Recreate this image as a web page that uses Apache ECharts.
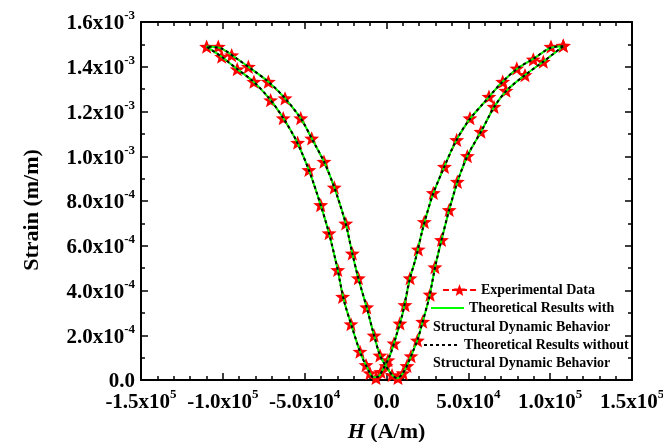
<!DOCTYPE html>
<html>
<head>
<meta charset="utf-8">
<script src="https://cdn.jsdelivr.net/npm/echarts@6/dist/echarts.min.js"></script>
<style>
html,body{margin:0;padding:0;background:#fff;}
#chart{width:663px;height:442px;}
</style>
</head>
<body>
<div id="chart"></div>
<script>
// ---- Data (H in A/m, strain in units of 1e-3 m/m) ----
// Experimental loop: right tip -> descending H -> left tip -> ascending H -> right tip
const expH = [108000, 100500, 89700, 79600, 71000, 62600, 51000, 42900, 35400, 28600, 23100, 19400, 14400, 11300, 8200, 4600, 900, -3400, -6400, -10100, -12500, -16200, -21700, -26800, -29800, -35100, -40200, -47400, -54300, -63100, -70800, -81000, -91200, -100700, -109900,
  -102800, -94600, -84400, -72200, -62000, -52400, -45700, -38200, -31900, -24900, -20900, -17200, -12100, -7600, -4000, -300, 3400, 7000, 10100, 12500, 15000, 18900, 22100, 26600, 29600, 33600, 38300, 43300, 49400, 57700, 65700, 73000, 84600, 95800, 108000];
const expStrain = [1.494, 1.490, 1.433, 1.393, 1.333, 1.266, 1.170, 1.073, 0.953, 0.836, 0.707, 0.584, 0.455, 0.335, 0.253, 0.164, 0.089, 0.036, 0.009, 0.031, 0.067, 0.127, 0.250, 0.372, 0.492, 0.656, 0.782, 0.939, 1.061, 1.170, 1.251, 1.333, 1.389, 1.445, 1.490,
  1.490, 1.452, 1.400, 1.333, 1.259, 1.170, 1.080, 0.976, 0.861, 0.700, 0.566, 0.455, 0.325, 0.199, 0.110, 0.063, 0.022, 0.009, 0.031, 0.063, 0.107, 0.177, 0.261, 0.382, 0.504, 0.626, 0.760, 0.886, 1.001, 1.110, 1.221, 1.293, 1.363, 1.423, 1.494];

// Theoretical results with structural dynamic behavior
const thWithH = [108000, 100000, 90000, 80000, 70000, 60000, 50000, 42000, 35000, 28000, 22000, 18000, 14000, 10000, 6000, 2000, -2000, -5000, -8000, -12000, -16000, -21000, -26000, -30000, -35000, -40000, -47000, -55000, -63000, -72000, -82000, -92000, -101000, -110000,
  -101000, -92000, -82000, -72000, -62000, -52000, -45000, -38000, -32000, -25000, -21000, -17000, -12000, -8000, -4000, 0, 3500, 6500, 10000, 13000, 16000, 19000, 22000, 26000, 30000, 34000, 38500, 44000, 50000, 58000, 66000, 74000, 85000, 96000, 108000];
const thWithStrain = [1.492, 1.484, 1.437, 1.392, 1.326, 1.243, 1.158, 1.062, 0.948, 0.822, 0.672, 0.548, 0.445, 0.302, 0.199, 0.108, 0.050, 0.015, 0.012, 0.058, 0.122, 0.235, 0.355, 0.498, 0.652, 0.777, 0.930, 1.068, 1.170, 1.262, 1.338, 1.394, 1.446, 1.490,
  1.482, 1.439, 1.387, 1.332, 1.259, 1.165, 1.070, 0.973, 0.863, 0.702, 0.569, 0.449, 0.322, 0.210, 0.110, 0.058, 0.022, 0.008, 0.030, 0.072, 0.125, 0.180, 0.258, 0.366, 0.515, 0.637, 0.766, 0.900, 1.010, 1.113, 1.223, 1.298, 1.365, 1.424, 1.492];

// Theoretical results without structural dynamic behavior (overlaps the above)
const thWithoutH = [108000, 100000, 90000, 80000, 70000, 60000, 50000, 42000, 35000, 28000, 22000, 18000, 14000, 10000, 6000, 2000, -2000, -5000, -8000, -12000, -16000, -21000, -26000, -30000, -35000, -40000, -47000, -55000, -63000, -72000, -82000, -92000, -101000, -110000,
  -101000, -92000, -82000, -72000, -62000, -52000, -45000, -38000, -32000, -25000, -21000, -17000, -12000, -8000, -4000, 0, 3500, 6500, 10000, 13000, 16000, 19000, 22000, 26000, 30000, 34000, 38500, 44000, 50000, 58000, 66000, 74000, 85000, 96000, 108000];
const thWithoutStrain = [1.492, 1.484, 1.437, 1.392, 1.326, 1.243, 1.158, 1.062, 0.948, 0.822, 0.672, 0.548, 0.445, 0.302, 0.199, 0.108, 0.050, 0.015, 0.012, 0.058, 0.122, 0.235, 0.355, 0.498, 0.652, 0.777, 0.930, 1.068, 1.170, 1.262, 1.338, 1.394, 1.446, 1.490,
  1.482, 1.439, 1.387, 1.332, 1.259, 1.165, 1.070, 0.973, 0.863, 0.702, 0.569, 0.449, 0.322, 0.210, 0.110, 0.058, 0.022, 0.008, 0.030, 0.072, 0.125, 0.180, 0.258, 0.366, 0.515, 0.637, 0.766, 0.900, 1.010, 1.113, 1.223, 1.298, 1.365, 1.424, 1.492];

// Tick labels
const xTickValues = [-150000, -100000, -50000, 0, 50000, 100000, 150000];
const xTickMantissa = ['-1.5x10', '-1.0x10', '-5.0x10', '0.0', '5.0x10', '1.0x10', '1.5x10'];
const xTickExp = ['5', '5', '4', '', '4', '5', '5'];
const yTickValues = [0, 0.2, 0.4, 0.6, 0.8, 1.0, 1.2, 1.4, 1.6];
const yTickMantissa = ['0.0', '2.0x10', '4.0x10', '6.0x10', '8.0x10', '1.0x10', '1.2x10', '1.4x10', '1.6x10'];
const yTickExp = ['', '-4', '-4', '-4', '-4', '-3', '-3', '-3', '-3'];

const seriesNames = ['Experimental Data', 'Theoretical Results with Structural Dynamic Behavior', 'Theoretical Results without Structural Dynamic Behavior'];
const xTitle = 'H';
const xTitleUnit = ' (A/m)';
const yTitle = 'Strain (m/m)';

// ---- Chart ----
const FONT = '"Liberation Serif", "Times New Roman", serif';
const zip = (a, b) => a.map((v, i) => [v, b[i]]);
const idxOf = (vals, v) => vals.findIndex(t => Math.abs(t - v) < 1e-6 * Math.max(1, Math.abs(t)));

const richLabel = {
  m: { fontFamily: FONT, fontWeight: 'bold', fontSize: 21, color: '#000', lineHeight: 25, verticalAlign: 'bottom' },
  e: { fontFamily: FONT, fontWeight: 'bold', fontSize: 13, color: '#000', lineHeight: 14, verticalAlign: 'top' }
};
function fmt(vals, man, ex) {
  return function (v) {
    const i = idxOf(vals, v);
    if (i < 0) return '';
    return ex[i] ? '{m|' + man[i] + '}{e|' + ex[i] + '}' : '{m|' + man[i] + '}';
  };
}

const STAR = 'path://M0,-10 L2.6,-3.4 L9.51,-3.09 L4.1,1.3 L5.88,8.09 L0,4.3 L-5.88,8.09 L-4.1,1.3 L-9.51,-3.09 L-2.6,-3.4 Z';

const axisLineStyle = { color: '#000', width: 2 };
const tickStyle = { color: '#000', width: 1.5 };

function xAx(pos, showLabel) {
  return {
    type: 'value', position: pos, min: -150000, max: 150000, interval: 50000,
    axisLine: { show: true, onZero: false, lineStyle: axisLineStyle },
    axisTick: { show: true, inside: true, length: 7, lineStyle: tickStyle },
    minorTick: { show: true, splitNumber: 5, length: 4, lineStyle: tickStyle },
    splitLine: { show: false }, minorSplitLine: { show: false },
    axisLabel: showLabel ? { show: true, margin: 8, fontFamily: FONT, fontWeight: 'bold', fontSize: 21, color: '#000',
      formatter: fmt(xTickValues, xTickMantissa, xTickExp), rich: richLabel, showMinLabel: true, showMaxLabel: true, hideOverlap: false } : { show: false },
    name: showLabel ? '{i|' + xTitle + '}{n|' + xTitleUnit + '}' : '',
    nameLocation: 'middle', nameGap: 41,
    nameTextStyle: {
      rich: {
        i: { fontFamily: FONT, fontWeight: 'bold', fontStyle: 'italic', fontSize: 22, color: '#000' },
        n: { fontFamily: FONT, fontWeight: 'bold', fontSize: 22, color: '#000' }
      }
    }
  };
}
function yAx(pos, showLabel) {
  return {
    type: 'value', position: pos, min: 0, max: 1.6, interval: 0.2,
    axisLine: { show: true, onZero: false, lineStyle: axisLineStyle },
    axisTick: { show: true, inside: true, length: 7, lineStyle: tickStyle },
    minorTick: { show: true, splitNumber: 2, length: 4, lineStyle: tickStyle },
    splitLine: { show: false }, minorSplitLine: { show: false },
    axisLabel: showLabel ? { show: true, margin: 6, fontFamily: FONT, fontWeight: 'bold', fontSize: 21, color: '#000',
      formatter: fmt(yTickValues, yTickMantissa, yTickExp), rich: richLabel } : { show: false },
    name: showLabel ? yTitle : '',
    nameLocation: 'middle', nameGap: 98,
    nameTextStyle: { fontFamily: FONT, fontWeight: 'bold', fontSize: 22, color: '#000', padding: [0, 18, 0, 0] }
  };
}

const legendText = { fontFamily: FONT, fontWeight: 'bold', fontSize: 14, color: '#000' };

const chart = echarts.init(document.getElementById('chart'), null, { renderer: 'canvas' });
chart.setOption({
  animation: false,
  backgroundColor: '#fff',
  grid: { left: 141, right: 31, top: 22, bottom: 62, containLabel: false, outerBoundsMode: 'none' },
  xAxis: [xAx('bottom', true), xAx('top', false)],
  yAxis: [yAx('left', true), yAx('right', false)],
  legend: [
    { data: [seriesNames[0]], left: 442, top: 283, itemWidth: 33, itemHeight: 15, itemGap: 4, textStyle: legendText, padding: 0 },
    { data: [seriesNames[1]], left: 430, top: 301, itemWidth: 33, itemHeight: 14, textStyle: legendText, padding: 0,
      itemStyle: { opacity: 0 }, formatter: () => 'Theoretical Results with' },
    { data: [seriesNames[2]], left: 423, top: 338, itemWidth: 35, itemHeight: 14, textStyle: legendText, padding: 0,
      itemStyle: { opacity: 0 }, formatter: () => 'Theoretical Results without' }
  ],
  graphic: [
    { type: 'text', left: 433, top: 320, style: { text: 'Structural Dynamic Behavior', font: 'bold 14px ' + FONT, fill: '#000' } },
    { type: 'text', left: 433, top: 356, style: { text: 'Structural Dynamic Behavior', font: 'bold 14px ' + FONT, fill: '#000' } }
  ],
  series: [
    {
      name: seriesNames[0], type: 'line', xAxisIndex: 0, yAxisIndex: 0,
      data: zip(expH, expStrain),
      symbol: STAR, symbolSize: 15, symbolKeepAspect: true, showAllSymbol: true,
      itemStyle: { color: '#ff0000' },
      lineStyle: { color: '#ff0000', width: 1.5, type: [6, 3] },
      z: 2
    },
    {
      name: seriesNames[1], type: 'line', xAxisIndex: 0, yAxisIndex: 0,
      data: zip(thWithH, thWithStrain), smooth: 0.3, symbol: 'none',
      itemStyle: { color: '#00ff00' },
      lineStyle: { color: '#00ff00', width: 2, type: 'solid' },
      z: 3
    },
    {
      name: seriesNames[2], type: 'line', xAxisIndex: 0, yAxisIndex: 0,
      data: zip(thWithoutH, thWithoutStrain), smooth: 0.3, symbol: 'none',
      itemStyle: { color: '#000' },
      lineStyle: { color: '#000', width: 2, type: [3, 3] },
      z: 4
    }
  ]
});
</script>
</body>
</html>
